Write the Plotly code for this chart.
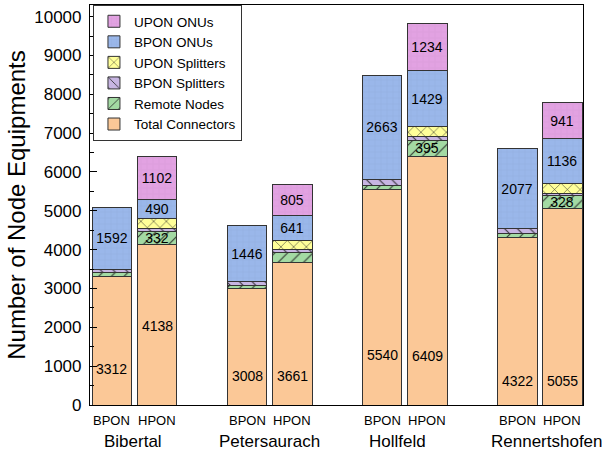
import plotly.graph_objects as go

# ---------------- data ----------------
towns = ["Bibertal", "Petersaurach", "Hollfeld", "Rennertshofen"]
archs = ["BPON", "HPON"]

# values per bar, order: town0 BPON, town0 HPON, town1 BPON, ...
total_connectors = [3312, 4138, 3008, 3661, 5540, 6409, 4322, 5055]
remote_nodes     = [90, 332, 80, 265, 112, 395, 84, 328]
bpon_splitters   = [100, 70, 80, 85, 165, 104, 130, 71]
upon_splitters   = [None, 270, None, 225, None, 265, None, 260]
bpon_onus        = [1592, 490, 1446, 641, 2663, 1429, 2077, 1136]
upon_onus        = [None, 1102, None, 805, None, 1234, None, 941]

# vertical placement (data units) of the Total Connectors labels
tc_label_y = [928, 2036, 747, 747, 1289, 1263, 619, 619]
# horizontal nudges (px) of the town names
town_xshift = [-2, 0, -7, 7]

# ---------------- layout helpers ----------------
half = 0.1667
bar_w = 0.296
xs = []
for i in range(len(towns)):
    xs += [i - half, i + half]

FONT = "Arial, Liberation Sans, sans-serif"
EDGE = "#333333"

series = [
    ("Total Connectors", total_connectors, "#FBC897", None, False),
    ("Remote Nodes", remote_nodes, "#A3DAA3", "/", True),
    ("BPON Splitters", bpon_splitters, "#C7B5E2", "\\", False),
    ("UPON Splitters", upon_splitters, "#FFFF99", "x", False),
    ("BPON ONUs", bpon_onus, "#9AB7EA", "+", True),
    ("UPON ONUs", upon_onus, "#E2A2E2", "+", True),
]

fig = go.Figure()
for name, vals, color, shape, labelled in series:
    if labelled:
        if name == "Remote Nodes":
            txt = [str(v) if (v is not None and v >= 300) else "" for v in vals]
        else:
            txt = ["" if v is None else str(v) for v in vals]
    else:
        txt = None
    marker = dict(color=color, line=dict(color=EDGE, width=1))
    if shape == "+":
        marker["pattern"] = dict(shape="+", size=6, solidity=0.08,
                                 fgcolor="#000000", fgopacity=0.08, bgcolor=color,
                                 fillmode="replace")
    elif shape is not None:
        marker["pattern"] = dict(shape=shape, size=9, solidity=0.12,
                                 fgcolor="#222222", fgopacity=0.9, bgcolor=color,
                                 fillmode="replace")
    fig.add_trace(go.Bar(
        x=xs, y=vals, name=name, width=bar_w, marker=marker,
        text=txt, textposition="inside" if txt else None,
        insidetextanchor="middle", textangle=0,
        textfont=dict(family=FONT, size=14, color="black"),
    ))

# Total connectors labels
for xv, yv, v in zip(xs, tc_label_y, total_connectors):
    fig.add_annotation(x=xv, y=yv, xref="x", yref="y", text=str(v),
                       showarrow=False, font=dict(family=FONT, size=14, color="black"))

# architecture labels under each bar
for k, xv in enumerate(xs):
    fig.add_annotation(x=xv, y=0, xref="x", yref="paper", text=archs[k % 2],
                       showarrow=False, yanchor="middle", yshift=-15,
                       font=dict(family=FONT, size=13, color="black"))
# town names
for i, t in enumerate(towns):
    fig.add_annotation(x=i, y=0, xref="x", yref="paper", text=t,
                       showarrow=False, yanchor="middle", yshift=-36, xshift=town_xshift[i],
                       font=dict(family=FONT, size=17, color="black"))

fig.update_layout(
    width=611, height=453,
    margin=dict(l=90, r=28, t=5, b=48),
    barmode="stack",
    plot_bgcolor="white", paper_bgcolor="white",
    font=dict(family=FONT, color="black"),
    uniformtext=dict(minsize=14, mode="show"),
    legend=dict(
        x=0.006, y=1.0, xanchor="left", yanchor="top",
        traceorder="reversed",
        bgcolor="white", bordercolor=EDGE, borderwidth=1,
        font=dict(family=FONT, size=13.5, color="black"),
        tracegroupgap=0, itemwidth=30,
    ),
    showlegend=True,
)
fig.update_xaxes(
    range=[-0.3296, 3.322], showticklabels=False, ticks="",
    showline=True, linecolor="black", linewidth=1.2, mirror=True,
    showgrid=False, zeroline=False, automargin=False,
)
fig.update_yaxes(
    range=[0, 10300], dtick=1000, tick0=0, tickformat="d",
    ticks="inside", ticklen=7, tickwidth=1, tickcolor="black",
    minor=dict(ticks="inside", ticklen=4, dtick=500, tickcolor="black", showgrid=False),
    showline=True, linecolor="black", linewidth=1.2, mirror=True,
    showgrid=False, zeroline=False, automargin=False,
    tickfont=dict(family=FONT, size=17, color="black"),
    title=dict(text="Number of Node Equipments", font=dict(family=FONT, size=24, color="black"),
               standoff=1),
    ticklabelstandoff=4,
)

fig.write_html("out.html", config={"displayModeBar": False},
               post_script="document.body.style.margin='0';")
